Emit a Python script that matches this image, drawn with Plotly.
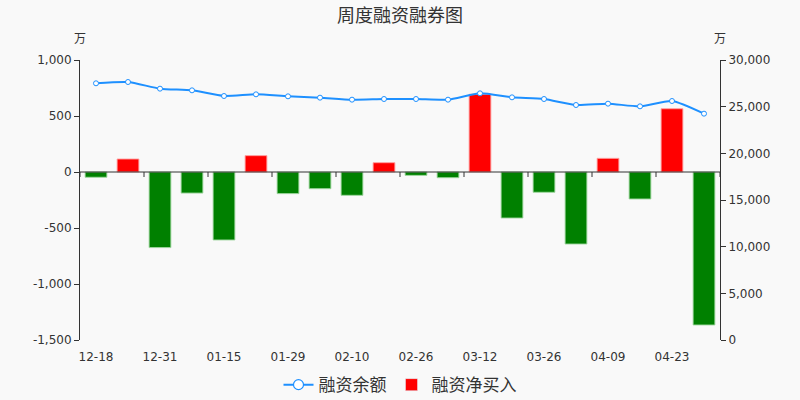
import plotly.graph_objects as go

dates = ["12-18", "12-25", "12-31", "01-08", "01-15", "01-22", "01-29", "02-05", "02-10", "02-19",
         "02-26", "03-05", "03-12", "03-19", "03-26", "04-02", "04-09", "04-16", "04-23", "04-30"]
net_buy = [-47, 116, -675, -188, -607, 146, -193, -149, -208, 83,
           -30, -51, 694, -411, -181, -643, 122, -241, 565, -1366]
balance = [27504, 27643, 26929, 26750, 26143, 26321, 26107, 25964, 25750, 25821,
           25821, 25750, 26429, 26000, 25821, 25179, 25321, 25036, 25607, 24250]
left_ticks = [-1500, -1000, -500, 0, 500, 1000]
right_ticks = [0, 5000, 10000, 15000, 20000, 25000, 30000]

idx = list(range(len(dates)))
boundaries = [i - 0.5 for i in idx[::2]] + [idx[-1] + 0.5]
bar_colors = ["#ff0000" if v >= 0 else "#008000" for v in net_buy]
edge_colors = ["rgba(255,160,160,0.9)" if v >= 0 else "rgba(160,215,160,0.9)" for v in net_buy]

font_fam = "DejaVu Sans, Noto Sans CJK SC"
cjk = "Noto Sans CJK SC"
blue = "#1e90ff"

fig = go.Figure()
fig.add_trace(go.Scatter(
    x=idx, y=balance, name="融资余额", mode="lines+markers",
    line=dict(color=blue, width=2, shape="spline", smoothing=0.6),
    marker=dict(size=5, color="white", line=dict(color=blue, width=1)),
    xaxis="x", yaxis="y2", showlegend=False,
))
fig.add_trace(go.Bar(
    x=idx, y=net_buy, name="融资净买入", width=0.68,
    marker=dict(color=bar_colors, line=dict(color=edge_colors, width=1)),
    xaxis="x", yaxis="y", showlegend=False,
))
# legend entries
fig.add_trace(go.Scatter(
    x=[None], y=[None], name="融资余额", mode="lines+markers",
    line=dict(color=blue, width=2),
    marker=dict(size=10, color="white", line=dict(color=blue, width=1.2)),
    xaxis="x", yaxis="y2", legendrank=1,
))
fig.add_trace(go.Bar(
    x=[None], y=[None], name="融资净买入",
    marker=dict(color="#ff0000"), xaxis="x", yaxis="y", legendrank=2,
))

n = len(dates)
# zero axis line with small downward ticks at category-pair boundaries
shapes = [dict(type="line", xref="paper", yref="y", x0=0, x1=1, y0=0, y1=0,
               line=dict(color="#333", width=1), layer="above")]
for b in boundaries:
    shapes.append(dict(type="line", xref="x", yref="y", ysizemode="pixel", yanchor=0,
                       x0=b, x1=b, y0=0, y1=-5, line=dict(color="#333", width=1), layer="above"))

fig.update_layout(
    width=800, height=400,
    paper_bgcolor="#f9f9f9", plot_bgcolor="#f9f9f9",
    margin=dict(l=80, r=80, t=60, b=60, autoexpand=False),
    font=dict(family=font_fam, size=12, color="#333"),
    showlegend=True,
    legend=dict(orientation="h", x=0.5, xanchor="center", y=-0.161, yanchor="middle",
                font=dict(family=cjk, size=17, color="#333"),
                bgcolor="rgba(0,0,0,0)", itemwidth=30),
    barmode="overlay",
    shapes=shapes,
    xaxis=dict(range=[-0.5, n - 0.5], tickmode="array", tickvals=idx[::2], ticktext=dates[::2],
               showline=False, showgrid=False, zeroline=False, ticks="", ticklabelstandoff=8,
               automargin=False, fixedrange=True),
    yaxis=dict(range=[-1500, 1000], tickmode="array", tickvals=left_ticks,
               ticktext=[f"{v:,}" for v in left_ticks],
               showline=True, linecolor="#333", ticks="outside", ticklen=5, tickcolor="#333",
               showgrid=False, zeroline=False, automargin=False),
    yaxis2=dict(range=[0, 30000], tickmode="array", tickvals=right_ticks,
                ticktext=[f"{v:,}" for v in right_ticks],
                overlaying="y", side="right", showline=True, linecolor="#333", ticks="outside",
                ticklen=5, tickcolor="#333", showgrid=False, zeroline=False, automargin=False),
    annotations=[
        dict(text="周度融资融券图", xref="paper", yref="paper", x=0.5, y=1.164,
             xanchor="center", yanchor="middle", showarrow=False,
             font=dict(family=cjk, size=18, color="#333")),
        dict(text="万", xref="paper", yref="paper", x=0, y=1.079, xanchor="center", yanchor="middle",
             showarrow=False, font=dict(family=cjk, size=12, color="#333")),
        dict(text="万", xref="paper", yref="paper", x=1, y=1.079, xanchor="center", yanchor="middle",
             showarrow=False, font=dict(family=cjk, size=12, color="#333")),
    ],
)

fig.write_html("out.html", config={"displayModeBar": False},
               post_script="document.body.style.margin='0px';document.body.style.background='#f9f9f9';")
